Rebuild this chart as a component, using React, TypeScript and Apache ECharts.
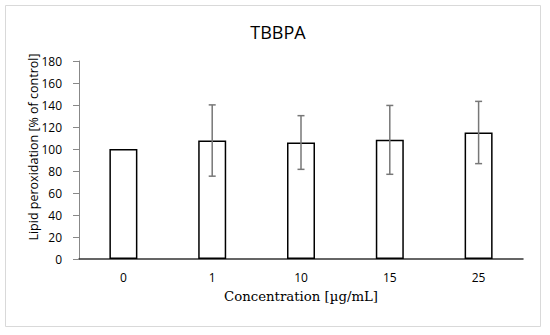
import React, { useEffect, useRef } from "react";
import * as echarts from "echarts";

const categories = ["0", "1", "10", "15", "25"];
const means = [100, 107.7, 105.9, 108.3, 115.0];
const errors = [0, 32.4, 24.4, 31.3, 28.3];
const yTicks = { min: 0, max: 180, interval: 20 };
const yTitle = "Lipid peroxidation [% of control]";

export default function App() {
  const ref = useRef<HTMLDivElement>(null);
  useEffect(() => {
    if (!ref.current) return;
    const chart = echarts.init(ref.current, null, { renderer: "svg" });
    const errData = categories.map((c, i) => [i, means[i] - errors[i], means[i] + errors[i], errors[i]]);
    chart.setOption({
      animation: false,
      backgroundColor: "#ffffff",
      title: {
        text: "TBBPA",
        left: 273,
        textAlign: "center",
        top: 18,
        textStyle: { fontFamily: "Open Sans", fontSize: 18, fontWeight: "normal", color: "#000" },
      },
      graphic: [
        {
          type: "rect",
          shape: { x: 5.5, y: 5.5, width: 535, height: 321 },
          style: { fill: "none", stroke: "#d9d9d9", lineWidth: 1 },
          silent: true,
        },
        {
          type: "text",
          x: 33,
          y: 147,
          rotation: Math.PI / 2,
          style: {
            text: yTitle,
            fontFamily: "Open Sans",
            fontSize: 12.5,
            fill: "#000",
            align: "center",
            verticalAlign: "middle",
          },
          silent: true,
        },
      ],
      grid: { left: 79, right: 27, top: 61, bottom: 76, containLabel: false },
      xAxis: {
        type: "category",
        data: categories,
        axisLine: { lineStyle: { color: "#333", width: 1.5 } },
        axisTick: { show: false },
        axisLabel: { color: "#000", fontFamily: "Open Sans", fontSize: 12, margin: 12 },
        name: "Concentration [µg/mL]",
        nameLocation: "middle",
        nameGap: 31,
        nameTextStyle: { fontFamily: "DejaVu Serif", fontSize: 13.3, color: "#000" },
      },
      yAxis: {
        type: "value",
        min: yTicks.min,
        max: yTicks.max,
        interval: yTicks.interval,
        axisLine: { show: true, lineStyle: { color: "#888", width: 1 } },
        axisTick: { show: true, length: 6, lineStyle: { color: "#888" } },
        splitLine: { show: false },
        axisLabel: { color: "#000", fontFamily: "Open Sans", fontSize: 12, margin: 17 },
      },
      series: [
        {
          type: "bar",
          data: means,
          barWidth: 28,
          itemStyle: { color: "#ffffff", borderColor: "#000", borderWidth: 1.5 },
        },
        {
          type: "custom",
          data: errData,
          z: 5,
          renderItem: (params: any, api: any) => {
            const i = api.value(0);
            const lo = api.coord([i, api.value(1)]);
            const hi = api.coord([i, api.value(2)]);
            if (api.value(3) === 0) return { type: "group", children: [] };
            const hw = 3.5;
            const style = { stroke: "#777", lineWidth: 1.5 };
            return {
              type: "group",
              children: [
                { type: "line", shape: { x1: lo[0], y1: lo[1], x2: hi[0], y2: hi[1] }, style },
                { type: "line", shape: { x1: lo[0] - hw, y1: lo[1], x2: lo[0] + hw, y2: lo[1] }, style },
                { type: "line", shape: { x1: hi[0] - hw, y1: hi[1], x2: hi[0] + hw, y2: hi[1] }, style },
              ],
            };
          },
        },
      ],
    });
    return () => chart.dispose();
  }, []);
  return <div ref={ref} style={{ position: "fixed", left: 0, top: 0, width: 550, height: 335 }} />;
}
